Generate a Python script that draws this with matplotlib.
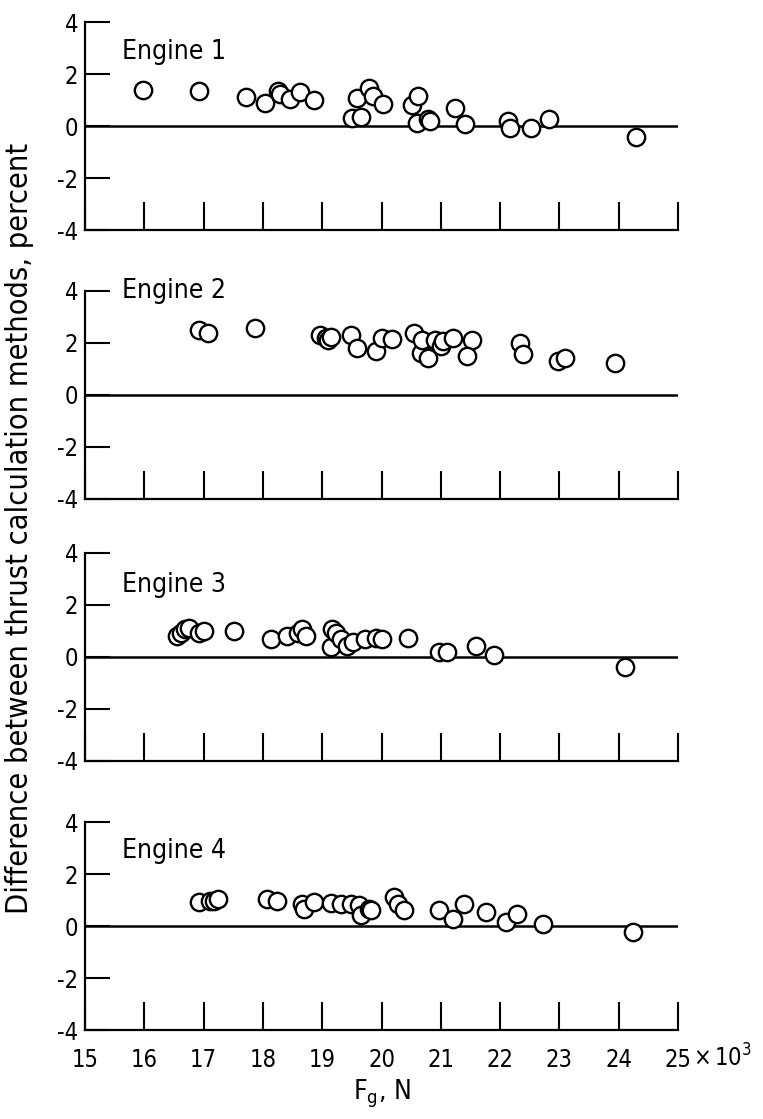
import matplotlib
matplotlib.use("Agg")
import matplotlib.pyplot as plt

# narrow look like the scanned report lettering
plt.rcParams['font.family'] = ['DejaVu Sans']
plt.rcParams['font.stretch'] = 'condensed'
plt.rcParams['axes.unicode_minus'] = False

# ---- data (x in 10^3 N, y in percent) ----
e1_x = [15.97, 16.93, 17.72, 18.03, 18.26, 18.28, 18.45, 18.63, 18.86, 19.50,
        19.66, 19.59, 19.79, 19.86, 20.03, 20.52, 20.62, 20.60, 20.79, 20.82,
        21.24, 21.41, 22.14, 22.17, 22.52, 22.83, 24.29]
e1_y = [1.38, 1.33, 1.12, 0.90, 1.35, 1.23, 1.03, 1.29, 1.01, 0.32,
        0.35, 1.07, 1.46, 1.16, 0.84, 0.81, 1.16, 0.13, 0.26, 0.19,
        0.71, 0.06, 0.19, -0.06, -0.09, 0.26, -0.43]

e2_x = [16.93, 17.07, 17.86, 18.97, 19.07, 19.10, 19.14, 19.48, 19.59, 19.90,
        20.00, 20.17, 20.55, 20.66, 20.69, 20.79, 20.90, 21.00, 21.03, 21.21,
        21.52, 21.45, 22.34, 22.38, 22.97, 23.10, 23.93]
e2_y = [2.51, 2.38, 2.57, 2.32, 2.19, 2.10, 2.25, 2.32, 1.81, 1.68,
        2.19, 2.15, 2.38, 1.62, 2.13, 1.43, 2.13, 1.87, 2.06, 2.19,
        2.10, 1.49, 2.00, 1.56, 1.30, 1.43, 1.24]

e3_x = [16.55, 16.62, 16.69, 16.76, 16.93, 17.00, 17.52, 18.14, 18.41, 18.59,
        18.66, 18.72, 19.14, 19.17, 19.24, 19.31, 19.41, 19.52, 19.72, 19.90,
        20.00, 20.45, 20.97, 21.10, 21.59, 21.90, 24.10]
e3_y = [0.81, 0.94, 1.06, 1.13, 0.94, 1.00, 1.00, 0.69, 0.81, 0.94,
        1.06, 0.81, 0.38, 1.06, 0.94, 0.69, 0.44, 0.56, 0.69, 0.75,
        0.69, 0.75, 0.19, 0.19, 0.44, 0.06, -0.38]

e4_x = [16.93, 17.10, 17.17, 17.24, 18.07, 18.24, 18.66, 18.69, 18.86, 19.14,
        19.31, 19.48, 19.62, 19.66, 19.79, 19.83, 20.21, 20.28, 20.38, 20.97,
        21.21, 21.39, 21.77, 22.10, 22.28, 22.72, 24.24]
e4_y = [0.92, 0.98, 0.98, 1.04, 1.04, 0.98, 0.85, 0.66, 0.92, 0.88,
        0.85, 0.85, 0.79, 0.41, 0.66, 0.60, 1.11, 0.85, 0.60, 0.60,
        0.28, 0.85, 0.54, 0.15, 0.47, 0.09, -0.23]

engines = ['Engine 1', 'Engine 2', 'Engine 3', 'Engine 4']
xs = [e1_x, e2_x, e3_x, e4_x]
ys = [e1_y, e2_y, e3_y, e4_y]
label_y = [2.86, 4.0, 2.77, 2.88]

x_ticks = list(range(15, 26))
y_ticks = [4, 2, 0, -2, -4]

W, H = 763, 1119
fig = plt.figure(figsize=(W / 100, H / 100), dpi=100)

tops = [22, 291, 553, 822]
ax_h = 208
left, right = 85, 678

for i in range(4):
    ax = fig.add_axes([left / W, 1 - (tops[i] + ax_h) / H,
                       (right - left) / W, ax_h / H])
    ax.plot(xs[i], ys[i], 'o', mfc='white', mec='black', ms=12.5, mew=1.7,
            clip_on=False, zorder=3)
    ax.axhline(0, color='black', lw=1.8, zorder=2)
    ax.set_xlim(15, 25)
    ax.set_ylim(-4, 4)
    ax.set_xticks(x_ticks)
    ax.set_yticks(y_ticks)
    ax.spines['top'].set_visible(False)
    ax.spines['right'].set_visible(False)
    ax.spines['left'].set_linewidth(1.6)
    ax.spines['bottom'].set_linewidth(1.6)
    ax.tick_params(axis='both', direction='in', length=18, width=1.5,
                   labelsize=17, pad=5)
    ax.tick_params(axis='x', length=20, pad=13)
    if i < 3:
        ax.tick_params(axis='x', labelbottom=False)
    else:
        ax.set_xlabel(r'F$_\mathregular{g}$, N', fontsize=19, labelpad=4)
        # multiplier written after the last tick label
        ax.annotate(r'$\times\,$10$^\mathregular{3}$', xy=(25, -4),
                    xytext=(11, -20), textcoords='offset points',
                    ha='left', va='center', fontsize=17, annotation_clip=False)
    ax.text(15.62, label_y[i], engines[i], fontsize=19, va='center', ha='left')

fig.text(0.026, 0.528, 'Difference between thrust calculation methods, percent',
         rotation=90, ha='center', va='center', fontsize=22)

fig.savefig('out.png', dpi=100)
